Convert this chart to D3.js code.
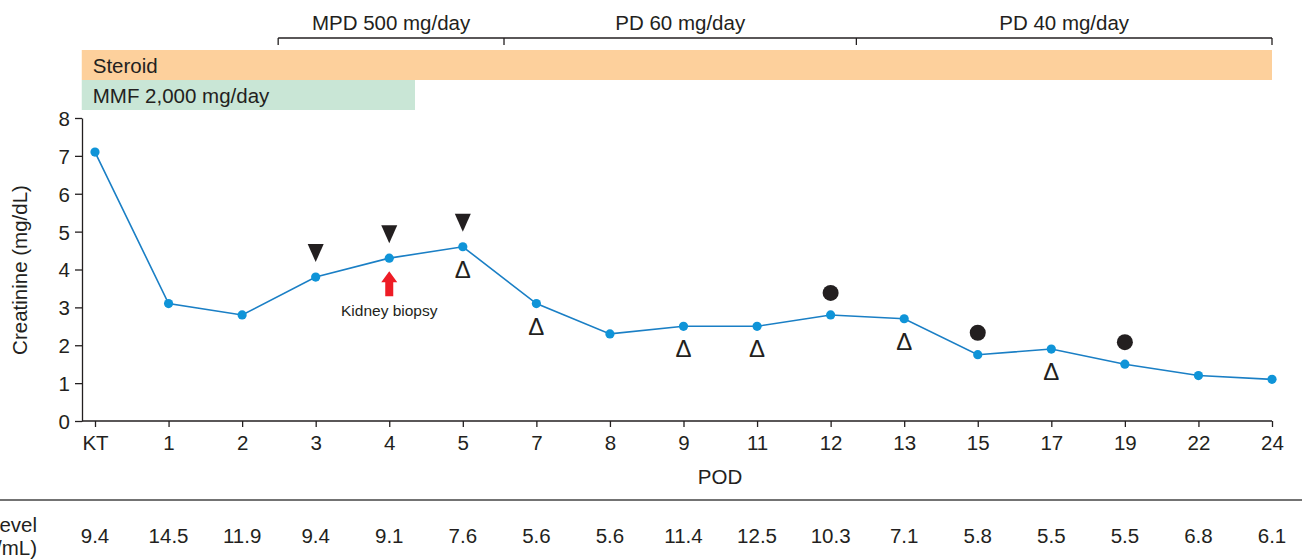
<!DOCTYPE html>
<html><head><meta charset="utf-8">
<script src="https://cdn.jsdelivr.net/npm/d3@7"></script>
<style>body{margin:0;background:#fff}svg{display:block;font-family:"Liberation Sans",Arial,sans-serif}</style>
</head><body>
<svg id="c" width="1302" height="559"></svg>
<script>
const categories = ["KT","1","2","3","4","5","7","8","9","11","12","13","15","17","19","22","24"];
const creatinine = [7.1,3.1,2.8,3.8,4.3,4.6,3.1,2.3,2.5,2.5,2.8,2.7,1.75,1.9,1.5,1.2,1.1];
const tacrolimus = ["9.4","14.5","11.9","9.4","9.1","7.6","5.6","5.6","11.4","12.5","10.3","7.1","5.8","5.5","5.5","6.8","6.1"];
const downTriangles = ["3","4","5"];
const openDeltas = ["5","7","9","11","13","17"];
const blackDots = ["12","15","19"];
const biopsyAt = "4";
const yTicks = [0,1,2,3,4,5,6,7,8];
// regimen periods as fractional category index
const regimens = [
  {label:"MPD 500 mg/day", from:2.49, to:5.56},
  {label:"PD 60 mg/day", from:5.56, to:10.35},
  {label:"PD 40 mg/day", from:10.35, to:16}
];
const bars = [
  {label:"Steroid", from:-0.18, to:16, color:"#fdd09c"},
  {label:"MMF 2,000 mg/day", from:-0.18, to:4.35, color:"#c9e6d6"}
];

const svg = d3.select("#c");
const ink = "#231f20";
const FS = 20.5;
const x = d3.scalePoint().domain(categories).range([95,1272]);
const step = x.step();
const xi = i => x(categories[0]) + i*step;
const y = d3.scaleLinear().domain([0,8]).range([421,118]);

// bars
bars.forEach((b,k)=>{
  const y0 = 50 + k*30;
  svg.append("rect").attr("x",xi(b.from)).attr("y",y0).attr("width",xi(b.to)-xi(b.from)).attr("height",30).attr("fill",b.color);
  svg.append("text").attr("x",xi(b.from)+11).attr("y",y0+23).attr("font-size",FS).attr("fill",ink).text(b.label);
});

// regimen brackets
const bl = 38;
svg.append("line").attr("x1",xi(regimens[0].from)).attr("x2",xi(regimens[regimens.length-1].to)).attr("y1",bl).attr("y2",bl).attr("stroke",ink).attr("stroke-width",1.3);
const brk = [regimens[0].from, ...regimens.map(r=>r.to)];
brk.forEach(v=>svg.append("line").attr("x1",xi(v)).attr("x2",xi(v)).attr("y1",bl).attr("y2",bl+7).attr("stroke",ink).attr("stroke-width",1.3));
regimens.forEach(r=>{
  svg.append("text").attr("x",(xi(r.from)+xi(r.to))/2).attr("y",30).attr("text-anchor","middle").attr("font-size",FS).attr("fill",ink).text(r.label);
});

// axes
const yAxis = svg.append("g").attr("transform","translate(82,0)").call(d3.axisLeft(y).tickValues(yTicks).tickSize(7).tickPadding(5).tickSizeOuter(0));
const xAxis = svg.append("g").attr("transform","translate(0,421)").call(d3.axisBottom(x).tickSize(6).tickPadding(8).tickSizeOuter(0));
xAxis.select(".domain").attr("d",`M82,0H${x("24")}`);
[yAxis,xAxis].forEach(g=>{
  g.attr("font-size",null).attr("font-family",null);
  g.selectAll("text").attr("font-size",FS).attr("fill",ink);
  g.selectAll("line,path").attr("stroke",ink).attr("stroke-width",1.3);
});
yAxis.selectAll("text").attr("dy","0.36em");

svg.append("text").attr("transform","translate(27,270) rotate(-90)").attr("text-anchor","middle").attr("font-size",FS).attr("fill",ink).text("Creatinine (mg/dL)");
svg.append("text").attr("x",720).attr("y",484).attr("text-anchor","middle").attr("font-size",FS).attr("fill",ink).text("POD");

// line & points
const data = categories.map((c,i)=>({c, v:creatinine[i]}));
svg.append("path").datum(data).attr("fill","none").attr("stroke","#1a7fc5").attr("stroke-width",1.6)
  .attr("d",d3.line().x(d=>x(d.c)).y(d=>y(d.v)));
svg.selectAll("circle.pt").data(data).join("circle").attr("class","pt").attr("cx",d=>x(d.c)).attr("cy",d=>y(d.v)).attr("r",4.6).attr("fill","#0f94d8");

const val = c => creatinine[categories.indexOf(c)];
// down triangles
downTriangles.forEach(c=>{
  const cx = x(c), cy = y(val(c)) - 24;
  svg.append("path").attr("d",`M${cx-8},${cy-9}L${cx+8},${cy-9}L${cx},${cy+9}Z`).attr("fill",ink);
});
// open deltas
openDeltas.forEach(c=>{
  svg.append("text").attr("x",x(c)).attr("y",y(val(c))+31).attr("text-anchor","middle").attr("font-size",24).attr("fill",ink).text("Δ");
});
// black dots
blackDots.forEach(c=>{
  svg.append("circle").attr("cx",x(c)).attr("cy",y(val(c))-22).attr("r",8).attr("fill",ink);
});
// biopsy arrow
{
  const cx = x(biopsyAt), top = y(val(biopsyAt)) + 13;
  svg.append("path").attr("d",`M${cx},${top}L${cx+8},${top+11}L${cx+4},${top+11}L${cx+4},${top+25}L${cx-4},${top+25}L${cx-4},${top+11}L${cx-8},${top+11}Z`).attr("fill","#ee1c25");
  svg.append("text").attr("x",cx).attr("y",top+45).attr("text-anchor","middle").attr("font-size",15.5).attr("fill",ink).text("Kidney biopsy");
}

// table
svg.append("line").attr("x1",0).attr("x2",1302).attr("y1",500).attr("y2",500).attr("stroke","#444").attr("stroke-width",1.6);
svg.append("text").attr("x",37).attr("y",532).attr("text-anchor","end").attr("font-size",FS).attr("fill",ink).text("Tacrolimus level");
svg.append("text").attr("x",37).attr("y",555).attr("text-anchor","end").attr("font-size",FS).attr("fill",ink).text("(ng/mL)");
svg.selectAll("text.tac").data(tacrolimus).join("text").attr("class","tac")
  .attr("x",(d,i)=>x(categories[i])).attr("y",543).attr("text-anchor","middle").attr("font-size",FS).attr("fill",ink).text(d=>d);
</script>
</body></html>
